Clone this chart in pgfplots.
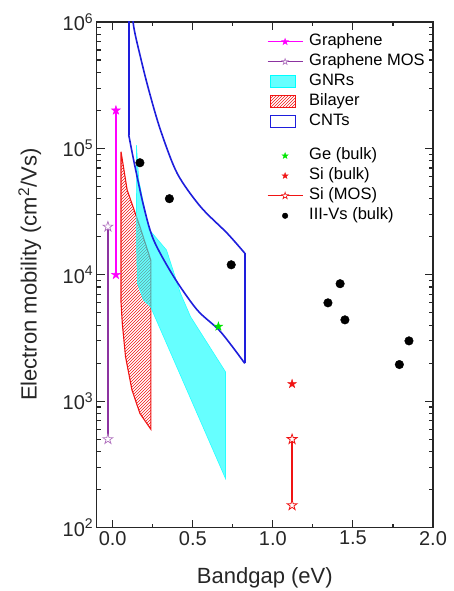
\documentclass[border=0pt]{standalone}
\usepackage{fontspec}
\setmainfont{Liberation Sans}
\usepackage{pgfplots}
\pgfplotsset{compat=1.18}
\usetikzlibrary{patterns}

\definecolor{cMag}{RGB}{255,0,255}
\definecolor{cPur}{RGB}{140,50,160}
\definecolor{cBlue}{RGB}{30,30,220}
\definecolor{cGreen}{RGB}{0,230,0}
\definecolor{cRed}{RGB}{240,20,20}
\definecolor{cCyan}{RGB}{0,255,255}

\pgfdeclareplotmark{fivestar}{%
 \pgfpathmoveto{\pgfpointpolar{90}{\pgfplotmarksize}}%
 \pgfpathlineto{\pgfpointpolar{126}{0.382\pgfplotmarksize}}%
 \pgfpathlineto{\pgfpointpolar{162}{\pgfplotmarksize}}%
 \pgfpathlineto{\pgfpointpolar{198}{0.382\pgfplotmarksize}}%
 \pgfpathlineto{\pgfpointpolar{234}{\pgfplotmarksize}}%
 \pgfpathlineto{\pgfpointpolar{270}{0.382\pgfplotmarksize}}%
 \pgfpathlineto{\pgfpointpolar{306}{\pgfplotmarksize}}%
 \pgfpathlineto{\pgfpointpolar{342}{0.382\pgfplotmarksize}}%
 \pgfpathlineto{\pgfpointpolar{18}{\pgfplotmarksize}}%
 \pgfpathlineto{\pgfpointpolar{54}{0.382\pgfplotmarksize}}%
 \pgfpathclose
 \pgfusepathqfillstroke}

\pgfplotsset{
  mylinelegend/.style={legend image code/.code={\draw[mark repeat=2,mark phase=2,##1] plot coordinates {(0pt,0pt) (17.5pt,0pt) (35pt,0pt)};}},
  myarealegend/.style={legend image code/.code={\draw[##1] (3pt,-6pt) rectangle (28pt,6pt);}},
  mymarklegend/.style={legend image code/.code={\draw[##1] plot coordinates {(17.5pt,0pt)};}},
}

\begin{document}
\begin{tikzpicture}
\begin{axis}[
  at={(0,0)}, anchor=south west,
  scale only axis, width=336.3pt, height=505.6pt,
  ymode=log, xmin=-0.1, xmax=2.0, ymin=100, ymax=1e6,
  legend cell align=left,
  legend style={draw=none, fill=none, inner sep=0pt, outer sep=0pt,
    font=\fontsize{16.5}{16.5}\selectfont, row sep=4pt, column sep=6pt,
    nodes={inner xsep=0pt, inner ysep=0pt, text height=12pt, text depth=4pt},
    at={(0.5064,0.9767)}, anchor=north west},
  xtick={0,0.5,1.0,1.5,2.0},
  xticklabels={0.0,0.5,1.0,1.5,2.0},
  minor xtick={0.25,0.75,1.25,1.75},
  ytick={1e2,1e3,1e4,1e5,1e6},
  yticklabels={10\textsuperscript{2},10\textsuperscript{3},10\textsuperscript{4},10\textsuperscript{5},10\textsuperscript{6}},
  tick align=inside, major tick length=8pt, minor tick length=4pt,
  axis line style={line width=1.4pt, black!85},
  every tick/.style={line width=1.1pt, black!85},
  tick label style={font=\fontsize{20}{20}\selectfont, black!85},
  xlabel={Bandgap (eV)},
  ylabel={Electron mobility (cm\textsuperscript{2}/Vs)},
  every axis y label/.style={at={(axis description cs:-0.1992,0.5)}, rotate=90, anchor=center, font=\fontsize{22}{22}\selectfont, black!85},
  every axis x label/.style={at={(axis description cs:0.5,-0.0989)}, anchor=center, font=\fontsize{22}{22}\selectfont, black!85},
]
% legend images (group 1)
\addlegendimage{mylinelegend, cMag, line width=1.2pt, mark=fivestar, mark size=3.2pt, mark options={fill=cMag, line width=0.6pt}}
\addlegendentry{Graphene}
\addlegendimage{mylinelegend, cPur, line width=1.2pt, mark=fivestar, mark size=3.2pt, mark options={fill=white, draw=cPur!70!white, line width=0.6pt}}
\addlegendentry{Graphene MOS}
\addlegendimage{myarealegend, draw=cCyan, fill=cCyan, fill opacity=0.6, line width=0.8pt}
\addlegendentry{GNRs}
\addlegendimage{myarealegend, draw=cRed, pattern=north east lines, pattern color=cRed, line width=1pt}
\addlegendentry{Bilayer}
\addlegendimage{myarealegend, draw=cBlue, line width=1.2pt}
\addlegendentry{CNTs}

% Bilayer (hatched)
\addplot[forget plot, draw=cRed, line width=1.1pt, pattern=north east lines, pattern color=cRed] coordinates {
(0.052,9.4e4) (0.09,4.7e4) (0.17,2.4e4) (0.238,1.3e4) (0.238,600)
(0.17,800) (0.12,1230) (0.08,2250) (0.06,4100) (0.052,6000)} -- cycle;

% GNRs (cyan)
\addplot[forget plot, draw=cCyan!85!white, line width=0.6pt, fill=cCyan, fill opacity=0.6] coordinates {
(0.148,1.06e5) (0.163,5.6e4) (0.225,2.3e4) (0.336,1.57e4) (0.423,7140) (0.486,4660)
(0.704,1710) (0.704,245) (0.236,5590) (0.192,6330) (0.154,8610) (0.150,1.57e4) (0.148,5e4)} -- cycle;

% CNTs (blue outline)
\addplot[forget plot, cBlue, line width=1.6pt] coordinates {(0.10,2e6) (0.10,1.28e5)};
\addplot[forget plot, cBlue, line width=1.6pt, smooth] coordinates {
(0.10,1.28e5) (0.135,7.6e4) (0.194,3.46e4) (0.256,1.88e4) (0.381,9660) (0.5275,5270) (0.673,3550) (0.825,1990)};
\addplot[forget plot, cBlue, line width=1.6pt] coordinates {(0.825,1990) (0.825,1.48e4)};
\addplot[forget plot, cBlue, line width=1.6pt, smooth] coordinates {
(0.825,1.48e4) (0.715,2.13e4) (0.548,3.46e4) (0.4025,6.35e4) (0.298,1.4e5) (0.225,2.9e5) (0.173,5.3e5) (0.131,9.2e5) (0.118,1.5e6)};

% Graphene
\addplot[forget plot, cMag, line width=1.2pt, mark=fivestar, mark size=4.6pt, mark options={fill=cMag, line width=0.5pt}] coordinates {(0.02,1e4) (0.02,2e5)};
% Graphene MOS
\addplot[forget plot, cPur, line width=1.2pt, mark=fivestar, mark size=5.2pt, mark options={fill=white, draw=cPur!70!white, line width=0.7pt}] coordinates {(-0.03,500) (-0.03,2.4e4)};
% Si MOS
\addplot[forget plot, cRed, line width=1.2pt, mark=fivestar, mark size=5.2pt, mark options={fill=white, line width=0.8pt}] coordinates {(1.12,150) (1.12,500)};
% Ge bulk
\addplot[forget plot, only marks, mark=fivestar, mark size=4.6pt, mark options={fill=cGreen, draw=cGreen}] coordinates {(0.66,3900)};
% Si bulk
\addplot[forget plot, only marks, mark=fivestar, mark size=4.6pt, mark options={fill=cRed, draw=cRed}] coordinates {(1.12,1370)};
% III-Vs
\addplot[forget plot, only marks, mark=*, mark size=4.3pt, black] coordinates {
(0.17,7.7e4) (0.354,4.0e4) (0.74,1.2e4) (1.344,6000) (1.42,8500) (1.45,4400) (1.79,1950) (1.85,3000)};
\end{axis}

\begin{axis}[
  at={(0,0)}, anchor=south west,
  scale only axis, width=336.3pt, height=505.6pt,
  ymode=log, xmin=-0.1, xmax=2.0, ymin=100, ymax=1e6,
  hide axis,
  legend cell align=left,
  legend style={draw=none, fill=none, inner sep=0pt, outer sep=0pt,
    font=\fontsize{16.5}{16.5}\selectfont, row sep=4pt, column sep=6pt,
    nodes={inner xsep=0pt, inner ysep=0pt, text height=12pt, text depth=4pt},
    at={(0.5064,0.7512)}, anchor=north west}]
\addlegendimage{mymarklegend, only marks, mark=fivestar, mark size=3.2pt, mark options={fill=cGreen, draw=cGreen}}
\addlegendentry{Ge (bulk)}
\addlegendimage{mymarklegend, only marks, mark=fivestar, mark size=3.2pt, mark options={fill=cRed, draw=cRed}}
\addlegendentry{Si (bulk)}
\addlegendimage{mylinelegend, cRed, line width=1.2pt, mark=fivestar, mark size=3.6pt, mark options={fill=white, line width=0.6pt}}
\addlegendentry{Si (MOS)}
\addlegendimage{mymarklegend, only marks, mark=*, mark size=2.8pt, black}
\addlegendentry{III-Vs (bulk)}
\end{axis}

\pgfresetboundingbox
\useasboundingbox (-96.7pt,-63.4pt) rectangle (356.3pt,527.6pt);
\end{tikzpicture}
\end{document}
